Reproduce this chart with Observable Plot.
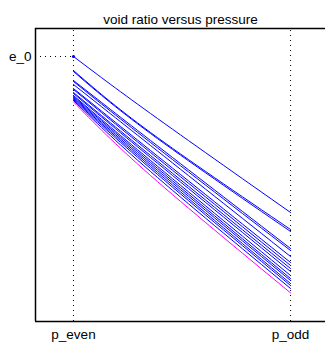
<!DOCTYPE html>
<html>
<head>
<meta charset="utf-8">
<script src="https://cdn.jsdelivr.net/npm/d3@7"></script>
<script src="https://cdn.jsdelivr.net/npm/@observablehq/plot@0.6"></script>
<style>
  html, body { margin: 0; padding: 0; background: #fff; }
  #chart svg { display: block; }
</style>
</head>
<body>
<div id="chart"></div>
<script>
const title = "void ratio versus pressure";
const xTickValues = [0, 1];
const xTickLabels = ["p_even", "p_odd"];
const yTickValues = [1.0];
const yTickLabels = ["e_0"];

// pressure positions where the void ratio was read (p_even, an intermediate reading, p_odd)
const pPos = [0, 0.355, 1];
// void ratio at each position for every curve (blue)
const eStart = [1.000, 0.965, 0.9625, 0.94, 0.9375, 0.93, 0.92, 0.9175, 0.91, 0.9075, 0.9025, 0.90, 0.8975, 0.895, 0.8925, 0.89];
const eMid   = [0.8575, 0.81, 0.8075, 0.79, 0.785, 0.7775, 0.765, 0.76, 0.7525, 0.7475, 0.74, 0.735, 0.73, 0.725, 0.72, 0.7125];
const eEnd   = [0.61, 0.5675, 0.5625, 0.52, 0.515, 0.50, 0.485, 0.4775, 0.47, 0.4625, 0.4525, 0.445, 0.44, 0.4325, 0.4275, 0.42];
// magenta curve
const eMagenta = [0.8865, 0.7025, 0.409];

const segs = [];
eStart.forEach((e, i) => {
  segs.push({id: i, x: pPos[0], e: e});
  segs.push({id: i, x: pPos[1], e: eMid[i]});
  segs.push({id: i, x: pPos[2], e: eEnd[i]});
});
const mag = eMagenta.map((e, i) => ({x: pPos[i], e}));

const xDomain = [-0.175, 1.161];
const yDomain = [0.3375, 1.07];
const FS = 13.5;

const chart = Plot.plot({
  width: 325,
  height: 342,
  marginLeft: 35,
  marginRight: 0,
  marginTop: 28,
  marginBottom: 21,
  style: {fontFamily: "'Liberation Sans', Arial, Helvetica, sans-serif", fontSize: FS + "px", color: "#000", background: "#fff"},
  x: {domain: xDomain, axis: null},
  y: {domain: yDomain, axis: null},
  marks: [
    // dotted grid
    Plot.ruleX(xTickValues, {x: d => d, y1: yDomain[0], y2: yDomain[1], stroke: "#000", strokeDasharray: "1,4", strokeWidth: 1}),
    Plot.ruleY(yTickValues, {y: d => d, x1: xDomain[0], x2: 0, stroke: "#000", strokeDasharray: "1,4", strokeWidth: 1}),
    // curves
    Plot.line(mag, {x: "x", y: "e", stroke: "#ff00ff", strokeWidth: 1, curve: "natural"}),
    Plot.line(segs, {x: "x", y: "e", z: "id", stroke: "#0000ff", strokeWidth: 1, curve: "natural"}),
    Plot.dot([{x: 0, e: eStart[0]}], {x: "x", y: "e", r: 1.6, fill: "#0000ff", stroke: "none"}),
    // frame (left, top, bottom)
    Plot.ruleX([xDomain[0]], {x: d => d, y1: yDomain[0], y2: yDomain[1], stroke: "#000", strokeWidth: 1.5}),
    Plot.ruleY([yDomain[0], yDomain[1]], {y: d => d, x1: xDomain[0], x2: xDomain[1], stroke: "#000", strokeWidth: 1.5}),
    // tick labels
    Plot.text(xTickValues, {x: d => d, y: yDomain[0], text: (d, i) => xTickLabels[i], dy: 13, fill: "#000", fontSize: FS}),
    Plot.text(yTickValues, {x: xDomain[0], y: d => d, text: (d, i) => yTickLabels[i], textAnchor: "end", dx: -4, fill: "#000", fontSize: FS}),
    // title
    Plot.text([title], {text: d => d, frameAnchor: "top", dy: -14, fill: "#000", fontSize: FS})
  ]
});
document.getElementById("chart").appendChild(chart);
</script>
</body>
</html>
